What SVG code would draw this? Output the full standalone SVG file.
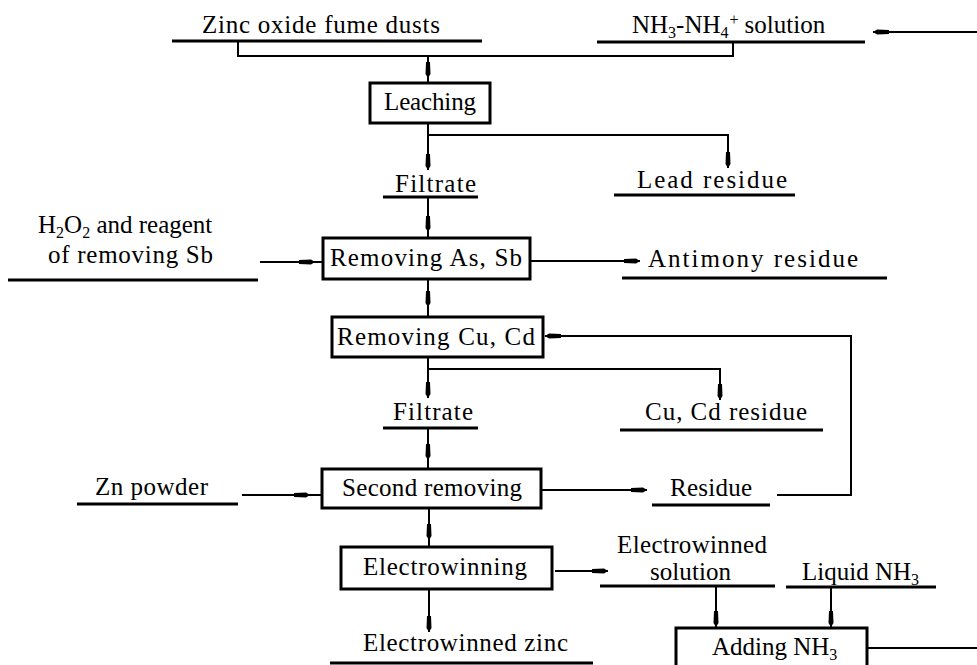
<svg xmlns="http://www.w3.org/2000/svg" width="977" height="665" viewBox="0 0 977 665">
<style>
text{font-family:"Liberation Serif","DejaVu Serif",serif;font-size:25px;fill:#000}
.box{fill:#fff;stroke:#000;stroke-width:3}
.ul{stroke:#000;stroke-width:3;fill:none}
.c{stroke:#000;stroke-width:2;fill:none}
.sub{font-size:16px}
</style>
<defs>
<marker id="ah" viewBox="-17 -4 18 8" refX="0" refY="0" markerWidth="18" markerHeight="8" markerUnits="userSpaceOnUse" orient="auto">
<path d="M0,0 L-4,-2.5 L-16,-2 L-16,2 L-4,2.5 Z" fill="#000"/>
</marker>
</defs>
<rect width="977" height="665" fill="#fff"/>

<g id="connectors">
<path class="c" d="M238,41 V56 H733 V42"/>
<path class="c" d="M428,56 V78" marker-end="url(#ah)"/><path class="c" d="M428,78 V83"/>
<path class="c" d="M977,32 H873" marker-end="url(#ah)"/>
<path class="c" d="M428,123 V170" marker-end="url(#ah)"/>
<path class="c" d="M428,135 H728 V168" marker-end="url(#ah)"/>
<path class="c" d="M428,197 V232" marker-end="url(#ah)"/><path class="c" d="M428,232 V238"/>
<path class="c" d="M260,262 H315" marker-end="url(#ah)"/><path class="c" d="M315,262 H323"/>
<path class="c" d="M530,261 H640" marker-end="url(#ah)"/>
<path class="c" d="M428,279 V307" marker-end="url(#ah)"/><path class="c" d="M428,307 V317"/>
<path class="c" d="M777,495 H851 V336 H545" marker-end="url(#ah)"/>
<path class="c" d="M428,357 V398" marker-end="url(#ah)"/>
<path class="c" d="M428,369 H720 V400" marker-end="url(#ah)"/>
<path class="c" d="M428,428 V460" marker-end="url(#ah)"/><path class="c" d="M428,460 V469"/>
<path class="c" d="M242,495 H310" marker-end="url(#ah)"/><path class="c" d="M310,495 H322"/>
<path class="c" d="M541,490 H647" marker-end="url(#ah)"/>
<path class="c" d="M429,508 V540" marker-end="url(#ah)"/><path class="c" d="M429,540 V547"/>
<path class="c" d="M429,589 V632" marker-end="url(#ah)"/>
<path class="c" d="M555,571 H608" marker-end="url(#ah)"/>
<path class="c" d="M716,586 V627" marker-end="url(#ah)"/>
<path class="c" d="M831,587 V627" marker-end="url(#ah)"/>
<path class="c" d="M867,648 H977"/>
</g>

<g id="zinc-oxide">
<text x="202" y="33" textLength="238" lengthAdjust="spacing">Zinc oxide fume dusts</text>
<line class="ul" x1="172" y1="41" x2="482" y2="41"/>
</g>
<g id="nh3-solution">
<text x="632" y="33">NH<tspan class="sub" dy="5">3</tspan><tspan dy="-5">-NH</tspan><tspan class="sub" dy="5">4</tspan><tspan class="sub" dx="1" dy="-13">+</tspan><tspan dy="8" dx="6">solution</tspan></text>
<line class="ul" x1="597" y1="42" x2="865" y2="42"/>
</g>
<g id="leaching">
<rect class="box" x="370" y="83" width="120" height="40"/>
<text x="384" y="110" textLength="92" lengthAdjust="spacing">Leaching</text>
</g>
<g id="filtrate1">
<text x="395" y="192" textLength="81" lengthAdjust="spacing">Filtrate</text>
<line class="ul" x1="383" y1="197" x2="478" y2="197"/>
</g>
<g id="lead-residue">
<text x="637" y="188" textLength="150" lengthAdjust="spacing">Lead residue</text>
<line class="ul" x1="614" y1="195" x2="795" y2="195"/>
</g>
<g id="h2o2">
<text x="38" y="233">H<tspan class="sub" dy="5">2</tspan><tspan dy="-5">O</tspan><tspan class="sub" dy="5">2</tspan><tspan dy="-5"> and reagent</tspan></text>
<text x="48" y="263" textLength="165" lengthAdjust="spacing">of removing Sb</text>
<line class="ul" x1="8" y1="280" x2="258" y2="280"/>
</g>
<g id="removing-as-sb">
<rect class="box" x="323" y="238" width="207" height="41"/>
<text x="330" y="266" textLength="192" lengthAdjust="spacing">Removing As, Sb</text>
</g>
<g id="antimony-residue">
<text x="648" y="267" textLength="210" lengthAdjust="spacing">Antimony residue</text>
<line class="ul" x1="622" y1="278" x2="887" y2="278"/>
</g>
<g id="removing-cu-cd">
<rect class="box" x="332" y="317" width="211" height="40"/>
<text x="337" y="345" textLength="198" lengthAdjust="spacing">Removing Cu, Cd</text>
</g>
<g id="filtrate2">
<text x="393" y="420" textLength="80" lengthAdjust="spacing">Filtrate</text>
<line class="ul" x1="383" y1="428" x2="478" y2="428"/>
</g>
<g id="cu-cd-residue">
<text x="645" y="420" textLength="162" lengthAdjust="spacing">Cu, Cd residue</text>
<line class="ul" x1="620" y1="430" x2="823" y2="430"/>
</g>
<g id="second-removing">
<rect class="box" x="322" y="469" width="219" height="39"/>
<text x="342" y="496" textLength="180" lengthAdjust="spacing">Second removing</text>
</g>
<g id="zn-powder">
<text x="95" y="495" textLength="113" lengthAdjust="spacing">Zn powder</text>
<line class="ul" x1="77" y1="504" x2="238" y2="504"/>
</g>
<g id="residue">
<text x="670" y="496" textLength="82" lengthAdjust="spacing">Residue</text>
<line class="ul" x1="652" y1="505" x2="770" y2="505"/>
</g>
<g id="electrowinning">
<rect class="box" x="341" y="547" width="211" height="42"/>
<text x="363" y="575" textLength="164" lengthAdjust="spacing">Electrowinning</text>
</g>
<g id="electrowinned-zinc">
<text x="363" y="651" textLength="205" lengthAdjust="spacing">Electrowinned zinc</text>
<line class="ul" x1="330" y1="663" x2="593" y2="663"/>
</g>
<g id="electrowinned-solution">
<text x="617" y="553" textLength="150" lengthAdjust="spacing">Electrowinned</text>
<text x="650" y="580" textLength="81" lengthAdjust="spacing">solution</text>
<line class="ul" x1="600" y1="586" x2="775" y2="586"/>
</g>
<g id="liquid-nh3">
<text x="802" y="580">Liquid NH<tspan class="sub" dy="5">3</tspan></text>
<line class="ul" x1="786" y1="587" x2="936" y2="587"/>
</g>
<g id="adding-nh3">
<rect class="box" x="676" y="628" width="191" height="42"/>
<text x="712" y="655">Adding NH<tspan class="sub" dy="5">3</tspan></text>
</g>
</svg>
